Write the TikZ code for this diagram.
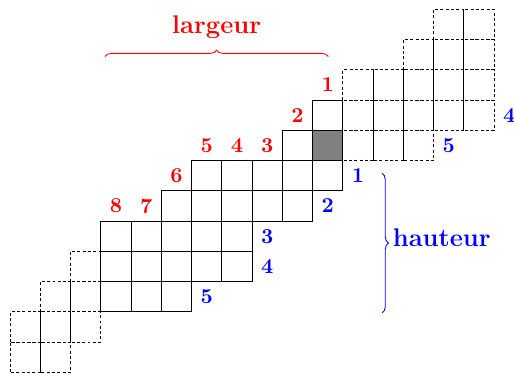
\documentclass[tikz,border=0pt]{standalone}
\usetikzlibrary{decorations.pathreplacing}
\begin{document}
\begin{tikzpicture}[x=0.5cm,y=0.5cm,
  cell/.style={draw=black},
  dcell/.style={draw=black,dash pattern=on 1.4pt off 1.1pt},
  lnum/.style={text=red,font=\bfseries},
  hnum/.style={text=blue,font=\bfseries},
  accolade/.style={decorate,decoration={brace,amplitude=3pt}}]
\useasboundingbox (-0.33,-0.023) rectangle (16.66,12.31);
\foreach \y/\a/\b in {0/0/1, 1/0/2, 2/1/2, 3/2/2, 7/11/13, 8/11/15, 9/11/15, 10/13/15, 11/14/15} {
  \foreach \x in {\a,...,\b} {
    \draw[dcell] (\x,\y) rectangle ++(1,1);
  }
}
\foreach \y/\a/\b in {2/3/5, 3/3/7, 4/3/7, 5/5/9, 6/6/10, 7/9/9, 8/10/10} {
  \foreach \x in {\a,...,\b} {
    \draw[cell] (\x,\y) rectangle ++(1,1);
  }
}
\filldraw[cell,fill=gray] (10,7) rectangle ++(1,1);
\foreach \x/\y/\lab in {10/9/1, 9/8/2, 8/7/3, 7/7/4, 6/7/5, 5/6/6, 4/5/7, 3/5/8} {
  \node[lnum] (l\lab) at (\x+0.5,\y+0.5) {\lab};
}
\foreach \x/\y/\lab in {11/6/1, 10/5/2, 8/4/3, 8/3/4, 6/2/5} {
  \node[hnum] (h\lab) at (\x+0.5,\y+0.5) {\lab};
}
\node[hnum] (hu4) at (16.5,8.5) {4};
\node[hnum] (hu5) at (14.5,7.5) {5};
\coordinate (la) at (3.14,10.44);
\coordinate (lb) at (10.52,10.44);
\draw[red,accolade] (la) -- (lb) node[midway,above=5.1pt,font=\large\bfseries] (largeur) {largeur};
\coordinate (ha) at (12.3,6.58);
\coordinate (hb) at (12.3,1.97);
\draw[blue,accolade] (ha) -- (hb) node[midway,right=1.5pt,yshift=2.4pt,font=\large\bfseries] (hauteur) {hauteur};
\end{tikzpicture}
\end{document}
